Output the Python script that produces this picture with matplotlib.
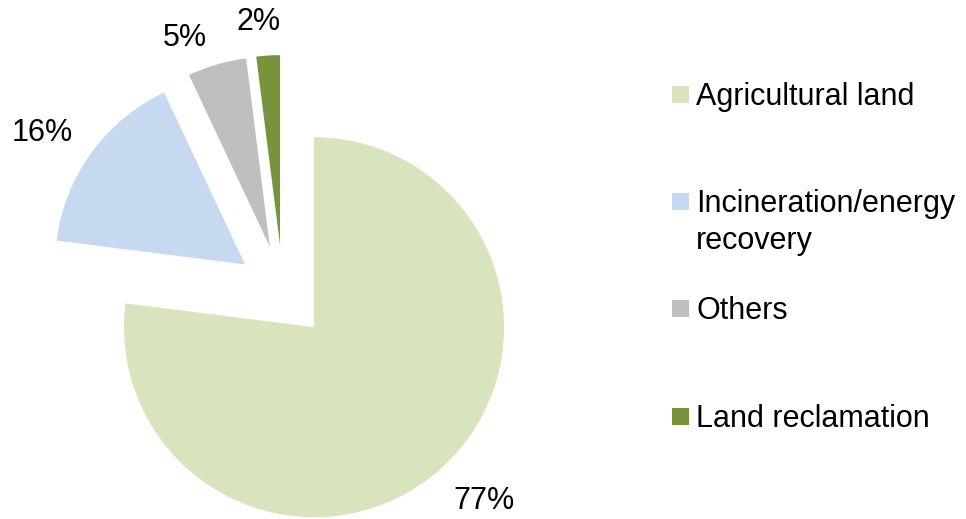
import numpy as np
import matplotlib.pyplot as plt
import matplotlib.patches as mpatches

# ── Data ─────────────────────────────────────────────────────────────────────
categories = ["Agricultural land", "Incineration/energy\nrecovery", "Others", "Land reclamation"]
shares = [77, 16, 5, 2]
colors = ["#D7E4BD", "#C6D9F1", "#BFBFBF", "#77933C"]

plt.rcParams["font.family"] = ["Liberation Sans", "DejaVu Sans"]

W, H = 966, 519
R = 190
fig = plt.figure(figsize=(W / 100, H / 100), dpi=100)
ax = fig.add_axes([0, 0, 1, 1])

# pie in pixel-like data units (axes spans whole figure); explode is in data units
wedges, texts, autotexts = ax.pie(
    shares, colors=colors, startangle=90, counterclock=False,
    explode=[0.247 * R] * len(shares), center=(283, H - 292), radius=R,
    autopct="%.0f%%", pctdistance=1.24,
    textprops=dict(fontsize=22, color="black"),
    wedgeprops=dict(linewidth=0))

# Excel "best fit" label spots: per-label distance / small angular nudge
lab_dist = [1.28, 1.27, 1.19, 1.18]
lab_nudge = [3, 3, 6, 2]
for w, t, d, nd in zip(wedges, autotexts, lab_dist, lab_nudge):
    a = np.deg2rad((w.theta1 + w.theta2) / 2 + nd)
    cx, cy = w.center
    t.set_position((cx + d * R * np.cos(a), cy + d * R * np.sin(a)))

ax.set_xlim(0, W)
ax.set_ylim(0, H)
ax.set_aspect("equal")
ax.axis("off")

# ── Legend (Excel-like: square at first text line) ───────────────────────────
leg_x = 672
leg_y = [H - 94, H - 201, H - 308, H - 416]
sq = 17
for cat, col, y in zip(categories, colors, leg_y):
    ax.add_patch(mpatches.Rectangle((leg_x, y - sq / 2), sq, sq, facecolor=col, edgecolor="none"))
    ax.text(leg_x + 24, y + 12, cat, fontsize=22, va="top", ha="left", linespacing=1.3)

fig.savefig("out.png", dpi=100)
